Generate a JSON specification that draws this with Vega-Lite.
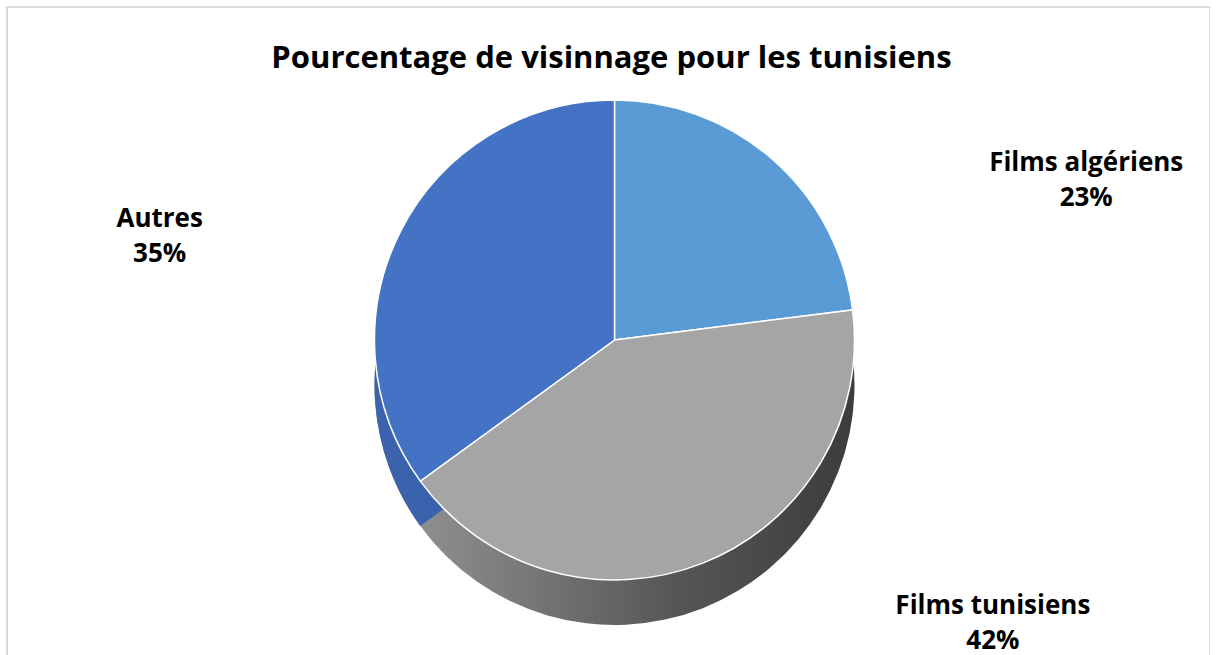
{
  "$schema": "https://vega.github.io/schema/vega-lite/v6.json",
  "width": 1203,
  "height": 660,
  "autosize": {"type": "none"},
  "padding": {"left": 7, "top": 7, "right": 0, "bottom": 0},
  "background": "white",
  "view": {"stroke": "#d9d9d9", "strokeWidth": 2},
  "title": {
    "text": "Pourcentage de visinnage pour les tunisiens",
    "font": "Open Sans",
    "fontSize": 31,
    "fontWeight": "bold",
    "color": "#000000",
    "anchor": "middle",
    "baseline": "alphabetic",
    "offset": -60,
    "dy": 32,
    "dx": 3
  },
  "data": {
    "values": [
      {"cat": "Films algériens", "pct": 23, "order": 1, "label": "Films algériens\n23%"},
      {"cat": "Films tunisiens", "pct": 42, "order": 2, "label": "Films tunisiens\n42%"},
      {"cat": "Autres", "pct": 35, "order": 3, "label": "Autres\n35%"}
    ]
  },
  "encoding": {
    "theta": {"field": "pct", "type": "quantitative", "stack": true},
    "order": {"field": "order", "type": "quantitative"}
  },
  "layer": [
    {
      "mark": {
        "type": "arc",
        "outerRadius": 240,
        "xOffset": 6,
        "yOffset": 48,
        "fill": {
          "gradient": "linear",
          "x1": 0, "y1": 0, "x2": 1, "y2": 0,
          "stops": [
            {"offset": 0, "color": "#8f8f8f"},
            {"offset": 0.6, "color": "#555555"},
            {"offset": 1, "color": "#3c3c3c"}
          ]
        }
      }
    },
    {
      "mark": {"type": "arc", "outerRadius": 240, "xOffset": 6, "yOffset": 48},
      "encoding": {
        "fill": {"condition": {"test": "datum.cat === 'Autres'", "value": "#3a62ad"}, "value": "#4a86c0"},
        "fillOpacity": {"condition": {"test": "datum.cat === 'Films tunisiens'", "value": 0}, "value": 1}
      }
    },
    {
      "mark": {"type": "arc", "outerRadius": 240, "xOffset": 6, "yOffset": 3, "stroke": "#ffffff", "strokeWidth": 1.5},
      "encoding": {
        "color": {
          "field": "cat",
          "type": "nominal",
          "scale": {"domain": ["Films algériens", "Films tunisiens", "Autres"], "range": ["#5b9bd5", "#a5a5a5", "#4472c4"]},
          "legend": null
        }
      }
    },
    {
      "mark": {"type": "text", "radius": 240, "dx": 319, "dy": 6, "lineBreak": "\n", "font": "Open Sans", "fontSize": 26, "fontWeight": "bold", "color": "#000000", "align": "center", "baseline": "middle", "lineHeight": 35},
      "encoding": {"text": {"condition": {"test": "datum.cat === 'Films algériens'", "field": "label"}, "value": ""}}
    },
    {
      "mark": {"type": "text", "radius": 240, "dx": 296, "dy": 46, "lineBreak": "\n", "font": "Open Sans", "fontSize": 26, "fontWeight": "bold", "color": "#000000", "align": "center", "baseline": "middle", "lineHeight": 35},
      "encoding": {"text": {"condition": {"test": "datum.cat === 'Films tunisiens'", "field": "label"}, "value": ""}}
    },
    {
      "mark": {"type": "text", "radius": 240, "dx": -235, "dy": -9, "lineBreak": "\n", "font": "Open Sans", "fontSize": 26, "fontWeight": "bold", "color": "#000000", "align": "center", "baseline": "middle", "lineHeight": 35},
      "encoding": {"text": {"condition": {"test": "datum.cat === 'Autres'", "field": "label"}, "value": ""}}
    }
  ]
}
